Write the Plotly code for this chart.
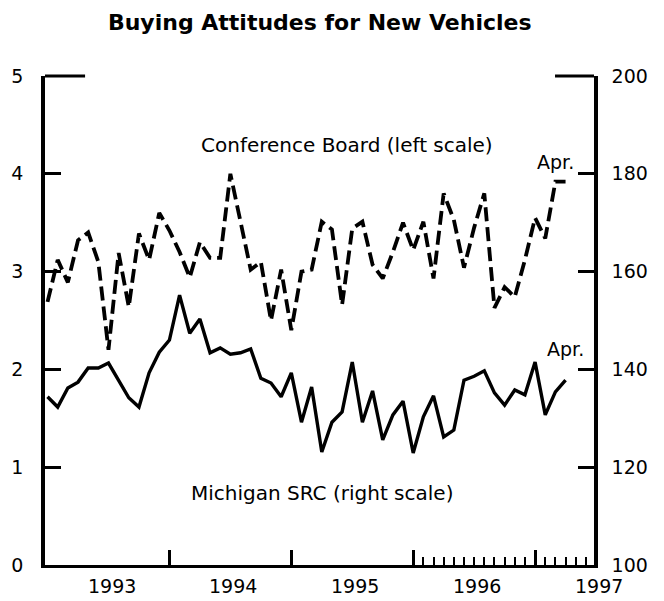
import plotly.graph_objects as go

# Monthly observations, Jan 1993 .. Apr 1997
months = list(range(52))  # 0 = Jan 1993
conference_board = [2.69, 3.12, 2.89, 3.32, 3.40, 3.10, 2.20, 3.19, 2.64, 3.39, 3.12, 3.60,
                    3.42, 3.20, 2.94, 3.30, 3.14, 3.14, 4.00, 3.50, 3.02, 3.10, 2.50, 3.02,
                    2.40, 3.00, 3.02, 3.51, 3.43, 2.66, 3.44, 3.51, 3.07, 2.93, 3.20, 3.50,
                    3.22, 3.51, 2.93, 3.80, 3.53, 3.04, 3.45, 3.80, 2.63, 2.84, 2.74, 3.12,
                    3.55, 3.34, 3.92, 3.92]
michigan_src = [134.4, 132.3, 136.2, 137.4, 140.3, 140.3, 141.3, 137.8, 134.2, 132.3, 139.3, 143.5,
                146.0, 155.2, 147.4, 150.3, 143.4, 144.4, 143.1, 143.4, 144.2, 138.2, 137.2, 134.4,
                139.3, 129.2, 136.4, 123.1, 129.2, 131.3, 141.5, 129.2, 135.6, 125.6, 130.7, 133.5,
                122.9, 130.3, 134.6, 126.2, 127.6, 137.8, 138.6, 139.7, 135.2, 132.7, 135.8, 134.8,
                141.5, 130.7, 135.4, 137.8]
year_labels = ["1993", "1994", "1995", "1996", "1997"]
left_ticks = [0, 1, 2, 3, 4, 5]
right_ticks = [100, 120, 140, 160, 180, 200]

FONT = "DejaVu Sans"
X_RANGE = [-0.25, 53.8]


def to_paper(m):
    return (m - X_RANGE[0]) / (X_RANGE[1] - X_RANGE[0])


fig = go.Figure()
fig.add_trace(go.Scatter(x=months, y=conference_board, mode="lines",
                         line=dict(color="black", width=3.8, dash="14px,6px"),
                         yaxis="y", showlegend=False))
fig.add_trace(go.Scatter(x=months, y=michigan_src, mode="lines",
                         line=dict(color="black", width=3.4),
                         yaxis="y2", showlegend=False))

annotations = []
for i, lab in enumerate(year_labels):
    annotations.append(dict(x=to_paper(12 * i + 6.3), y=0, xref="paper", yref="paper", text=lab,
                            showarrow=False, xanchor="center", yanchor="middle", yshift=-21,
                            font=dict(family=FONT, size=19, color="black")))
annotations += [
    dict(x=29.5, y=4.29, xref="x", yref="y", text="Conference Board (left scale)",
         showarrow=False, xanchor="center", font=dict(family=FONT, size=20, color="black")),
    dict(x=27.0, y=0.74, xref="x", yref="y", text="Michigan SRC (right scale)",
         showarrow=False, xanchor="center", font=dict(family=FONT, size=20, color="black")),
    dict(x=50.0, y=4.12, xref="x", yref="y", text="Apr.",
         showarrow=False, xanchor="center", font=dict(family=FONT, size=19, color="black")),
    dict(x=51.0, y=2.21, xref="x", yref="y", text="Apr.",
         showarrow=False, xanchor="center", font=dict(family=FONT, size=19, color="black")),
]

fig.update_layout(
    width=664, height=601,
    margin=dict(l=45, r=70, t=76, b=36, autoexpand=False),
    paper_bgcolor="white", plot_bgcolor="white",
    title=dict(text="<b>Buying Attitudes for New Vehicles</b>", x=to_paper(26.8), xref="paper",
               xanchor="center",
               y=1 - 22 / 601, yref="container", yanchor="middle",
               font=dict(family=FONT, size=22, color="black")),
    xaxis=dict(range=X_RANGE, showgrid=False, zeroline=False, automargin=False,
               showline=True, linecolor="black", linewidth=3,
               tickmode="array", tickvals=[12, 24, 36, 48], showticklabels=False,
               ticks="inside", ticklen=15, tickwidth=3, tickcolor="black",
               minor=dict(tickmode="array", tickvals=[m for m in range(37, 54) if m != 48],
                          ticks="inside", ticklen=8, tickwidth=2, tickcolor="black")),
    yaxis=dict(range=[0, 5], showgrid=False, zeroline=False, automargin=False,
               showline=True, linecolor="black", linewidth=3.5,
               tickmode="array", tickvals=left_ticks,
               ticks="inside", ticklen=16, tickwidth=3, tickcolor="black",
               ticklabelstandoff=14,
               tickfont=dict(family=FONT, size=19, color="black")),
    yaxis2=dict(range=[100, 200], overlaying="y", side="right", anchor="x",
                showgrid=False, zeroline=False, automargin=False,
                showline=True, linecolor="black", linewidth=3.5,
                tickmode="array", tickvals=right_ticks,
                ticks="inside", ticklen=16, tickwidth=3, tickcolor="black",
                ticklabelstandoff=10,
                tickfont=dict(family=FONT, size=19, color="black")),
    annotations=annotations,
    shapes=[
        dict(type="line", xref="paper", yref="paper", x0=0, x1=0.073, y0=1, y1=1,
             line=dict(color="black", width=3)),
        dict(type="line", xref="paper", yref="paper", x0=0.929, x1=1, y0=1, y1=1,
             line=dict(color="black", width=3)),
    ],
)

fig.write_html("out.html", config={"displayModeBar": False},
               post_script="document.body.style.margin='0';")
